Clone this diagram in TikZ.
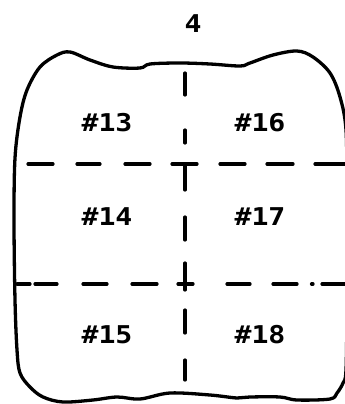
\documentclass[tikz,border=0pt]{standalone}
\usepackage{fontspec}
\newfontfamily\labfont{DejaVu Sans Mono}[FakeStretch=1.15]
\begin{document}
\begin{tikzpicture}[x=1pt,y=-1pt,
  outline/.style={line width=3.3pt,line join=round},
  dsh/.style={line width=3.2pt,line cap=round},
  lab/.style={font=\labfont\bfseries\fontsize{24.5}{26}\selectfont,inner sep=0pt}]
\useasboundingbox (0,0) rectangle (345,404);
% outline of the piece
\draw[outline] plot[smooth cycle,tension=0.55] coordinates {
 (70,52) (90,60) (113,67) (140,68) (150,64) (180,63) (210,64) (240,66) (250,63)
 (273,55) (297,51) (313,57) (330,73) (340,97) (346,130) (347,200) (347,300)
 (346,370) (343,383) (337,393) (330,399) (297,400) (280,397) (250,397) (237,398)
 (210,395) (170,393) (140,399) (117,397) (93,400) (63,402) (43,397) (30,387)
 (20,373) (17,350) (15,300) (14,220) (15,158) (20,117) (27,90) (40,67) (57,55)};
% vertical dashed line
\foreach \a/\b in {73/95,130/143,164/190,217/240,263/290,310/333,360/380}
  \draw[dsh] (185,\a) -- (185,\b);
% upper horizontal dashed line
\foreach \a/\b in {28/53,77/100,125/150,172/197,220/245,267/293,315/345}
  \draw[dsh] (\a,164) -- (\b,164);
% lower horizontal dashed line
\foreach \a/\b in {17/30,35/57,83/107,132/157,178/193,227/250,273/297,311.5/313,322/345}
  \draw[dsh] (\a,284) -- (\b,284);
% labels
\node[lab] (t) at (193,24) {4};
\node[lab] (n13) at (107,122.5) {\#13};
\node[lab] (n16) at (260,122.5) {\#16};
\node[lab] (n14) at (107,217) {\#14};
\node[lab] (n17) at (260,217) {\#17};
\node[lab] (n15) at (107,335) {\#15};
\node[lab] (n18) at (260,335) {\#18};
\end{tikzpicture}
\end{document}
